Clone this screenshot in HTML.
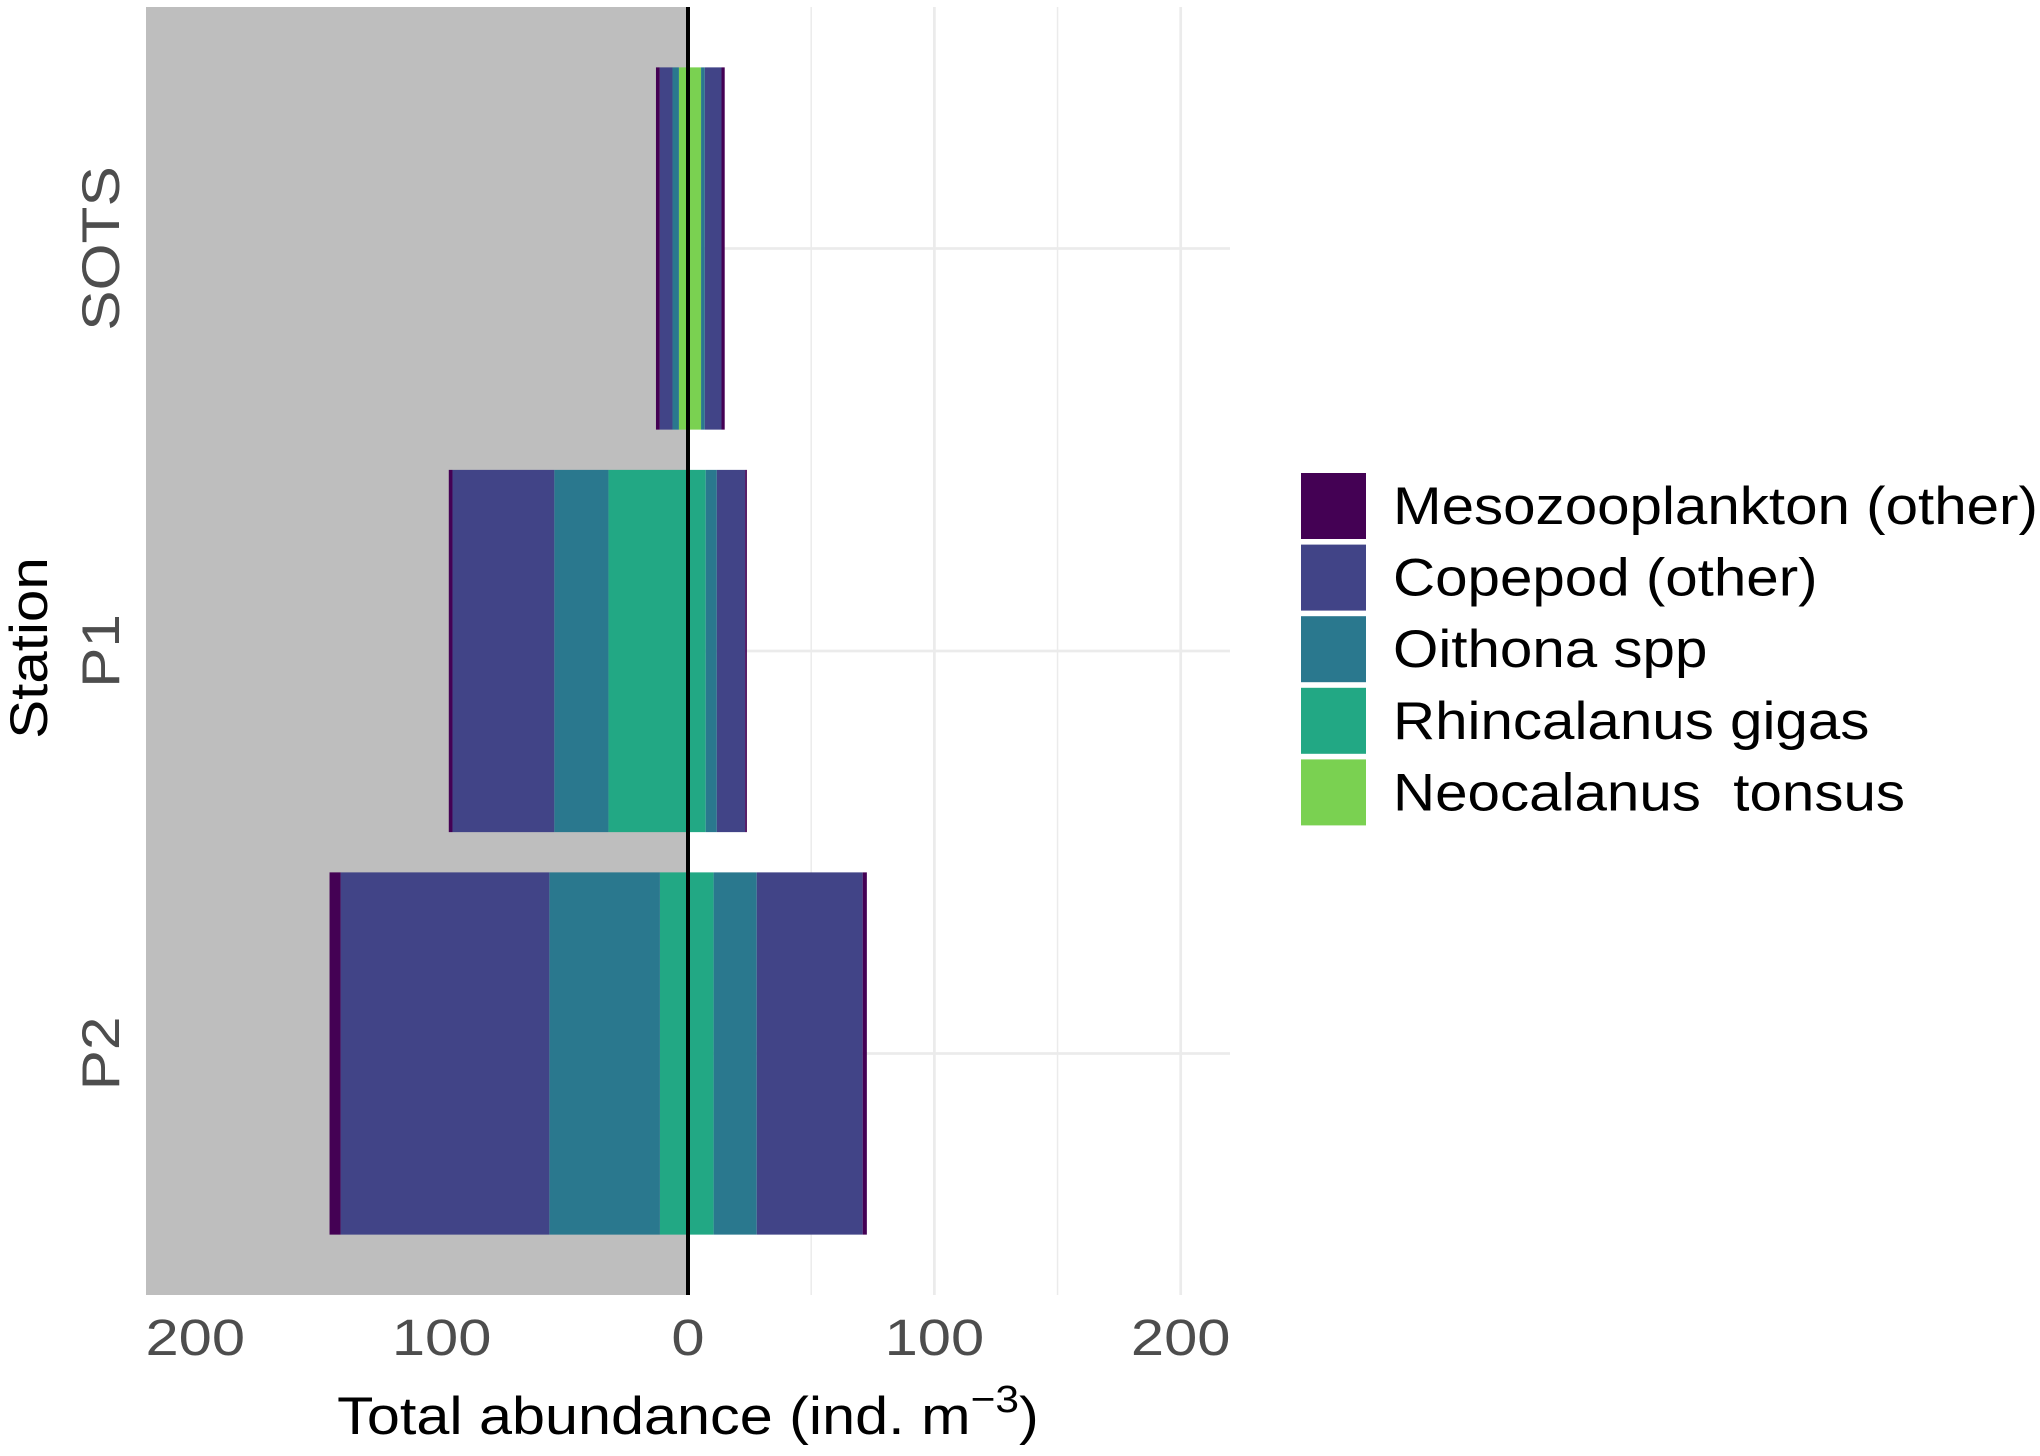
<!DOCTYPE html>
<html><head><meta charset="utf-8"><style>
html,body{margin:0;padding:0;background:#fff;}
svg{display:block;font-family:"Liberation Sans",sans-serif;}
</style></head><body>
<svg id="chart" width="2040" height="1456" viewBox="0 0 2040 1456" xmlns="http://www.w3.org/2000/svg">
<g id="grid"></g>
<g id="bars"></g>
<g id="axes"></g>
<g id="legend"></g>
</svg>
<script>
const stations = ["SOTS", "P1", "P2"];
const taxa = ["Mesozooplankton (other)", "Copepod (other)", "Oithona spp", "Rhincalanus gigas", "Neocalanus  tonsus"];
const colors = ["#440154", "#414487", "#2a788e", "#22a884", "#7ad151"];
// left side (negative direction) magnitudes per station, order = taxa
const leftSOTS = [1.5, 5.2, 2.6, 0, 3.7];
const leftP1 = [1.5, 41.3, 22.0, 32.3, 0];
const leftP2 = [4.5, 84.7, 44.9, 11.4, 0];
// right side magnitudes
const rightSOTS = [1.3, 6.8, 1.5, 0, 5.3];
const rightP1 = [0.7, 11.5, 4.5, 7.2, 0];
const rightP2 = [1.7, 43.0, 17.5, 10.4, 0];
const xTicks = [-200, -100, 0, 100, 200];
const xTickLabels = ["200", "100", "0", "100", "200"];
const xMinor = [-150, -50, 50, 150];

const leftVals = [leftSOTS, leftP1, leftP2];
const rightVals = [rightSOTS, rightP1, rightP2];
const NS = "http://www.w3.org/2000/svg";
const P = {l:146, r:1230, t:7, b:1295};
const xMin = -220, xMax = 220;
function X(v){ return P.l + (v - xMin) / (xMax - xMin) * (P.r - P.l); }
// discrete scale with 0.6 expansion each side
const nCat = stations.length;
const band = (P.b - P.t) / (nCat - 1 + 1.2);
function Y(i){ return P.t + band * (0.6 + i); }
function mk(tag, attrs, parent){ const e = document.createElementNS(NS, tag); for (const k in attrs) e.setAttribute(k, attrs[k]); parent.appendChild(e); return e; }
function stretch(t, f){ const w = t.getComputedTextLength(); t.setAttribute('textLength', w * f); t.setAttribute('lengthAdjust', 'spacingAndGlyphs'); }

const grid = document.getElementById('grid');
const bars = document.getElementById('bars');
const axes = document.getElementById('axes');
const legend = document.getElementById('legend');

const bg = mk('rect', {x:P.l, y:P.t, width:X(0)-P.l, height:P.b-P.t, fill:'#bebebe'}, grid);


xMinor.forEach(v => {
  if (v > 0) {
    const l = mk('line', {x1:X(v), x2:X(v), y1:P.t, y2:P.b, stroke:'#ebebeb', 'stroke-width':1.5}, grid);
    
    
  }
});
xTicks.forEach(v => {
  if (v > 0) {
    const l = mk('line', {x1:X(v), x2:X(v), y1:P.t, y2:P.b, stroke:'#ebebeb', 'stroke-width':2.7}, grid);
    
    
  }
});
stations.forEach((s, i) => {
  const l = mk('line', {x1:X(0), x2:P.r, y1:Y(i), y2:Y(i), stroke:'#ebebeb', 'stroke-width':2.7}, grid);
  
  
});

const halfH = band * 0.45;
stations.forEach((s, i) => {
  let accL = 0, accR = 0;
  for (let k = taxa.length - 1; k >= 0; k--) {
    const lv = leftVals[i][k];
    if (lv > 0) {
      const r = mk('rect', {x:X(-(accL + lv)), y:Y(i) - halfH, width:X(-accL) - X(-(accL + lv)), height:2*halfH, fill:colors[k]}, bars);
      
      
      accL += lv;
    }
    const rv = rightVals[i][k];
    if (rv > 0) {
      const r = mk('rect', {x:X(accR), y:Y(i) - halfH, width:X(accR + rv) - X(accR), height:2*halfH, fill:colors[k]}, bars);
      
      
      accR += rv;
    }
  }
});

const z = mk('line', {x1:X(0), x2:X(0), y1:P.t, y2:P.b, stroke:'#000', 'stroke-width':4}, axes);



xTicks.forEach((v, j) => {
  const t = mk('text', {x:X(v), y:1355, 'text-anchor':'middle', 'font-size':51, fill:'#4d4d4d'}, axes);
  t.textContent = xTickLabels[j];
  
  
  stretch(t, 1.17);
});
stations.forEach((s, i) => {
  const t = mk('text', {x:0, y:0, 'text-anchor':'middle', 'font-size':53, fill:'#4d4d4d', transform:'translate(119,' + Y(i) + ') rotate(-90)'}, axes);
  t.textContent = s;
  
  
  stretch(t, 1.14);
});
const xt = mk('text', {x:X(0), y:1434, 'text-anchor':'middle', 'font-size':53, fill:'#000'}, axes);


xt.innerHTML = 'Total abundance (ind. m<tspan dy="-22" font-size="38">−3</tspan><tspan dy="22">)</tspan>';
xt.setAttribute('transform', 'translate(' + X(0) + ',0) scale(1.12,1) translate(' + (-X(0)) + ',0)');
const yt = mk('text', {x:0, y:0, 'text-anchor':'middle', 'font-size':53, fill:'#000', transform:'translate(47,648) rotate(-90)'}, axes);
yt.textContent = 'Station';


stretch(yt, 1.1);

taxa.forEach((name, k) => {
  const y0 = 473 + k * 71.6;
  const g = mk('g', {}, legend);
  
  
  const r = mk('rect', {x:1301, y:y0, width:65, height:66, fill:colors[k]}, g);
  
  
  const t = mk('text', {x:1393, y:y0 + 51, 'font-size':53, fill:'#000'}, g);
  t.setAttribute('style', 'white-space:pre');
  t.textContent = name;
  
  
  stretch(t, 1.1);
});
</script>
</body></html>
